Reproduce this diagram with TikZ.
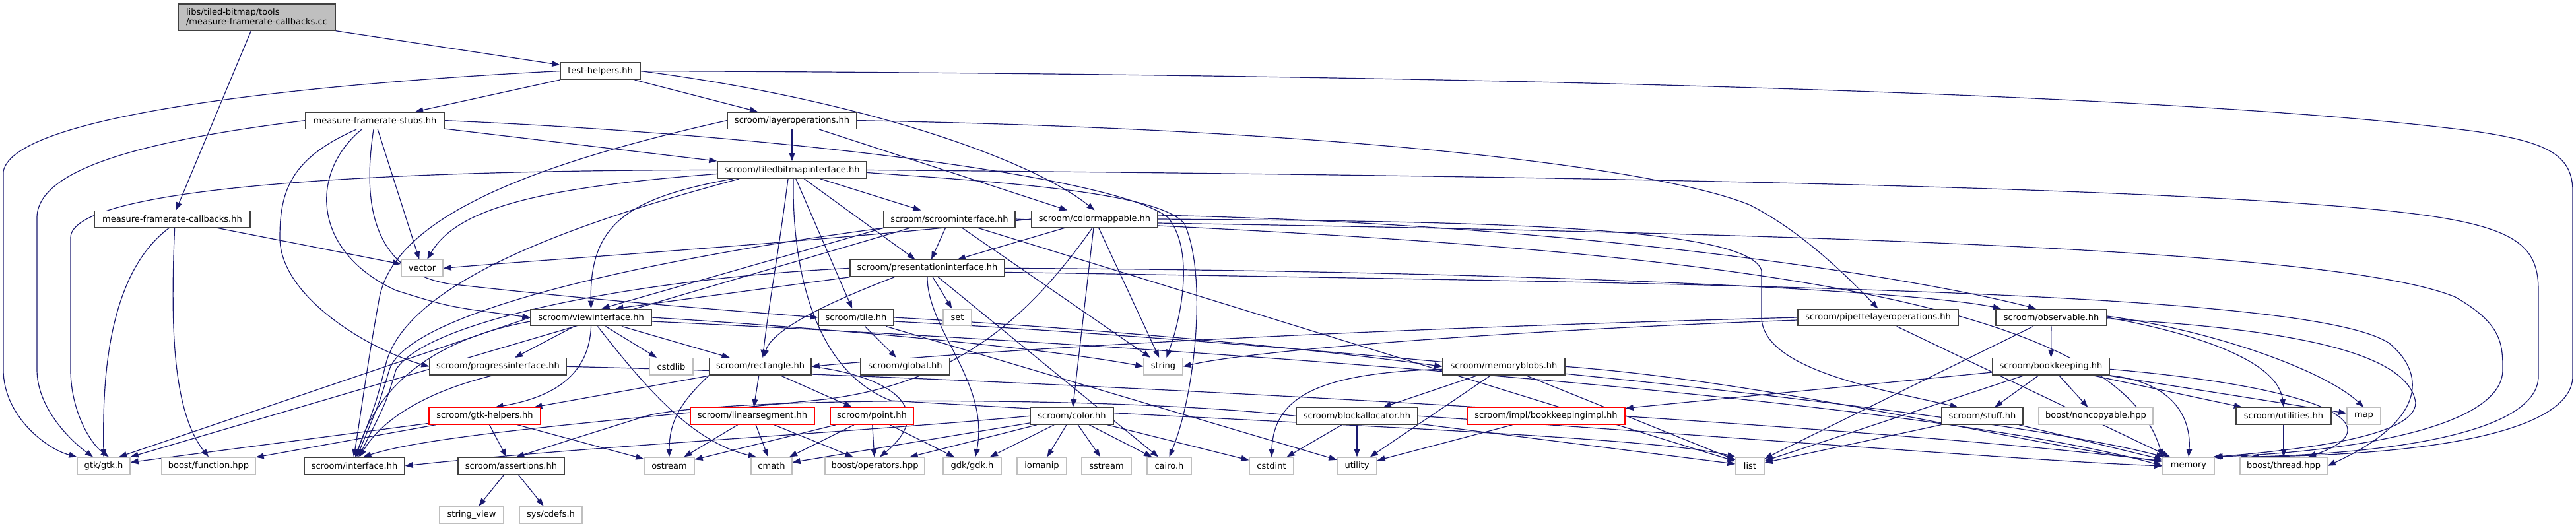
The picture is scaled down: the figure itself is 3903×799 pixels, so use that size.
\documentclass[tikz,border=0pt]{standalone}
\usepackage{fontspec}
\setmainfont{DejaVu Sans}
\usetikzlibrary{arrows.meta}
\definecolor{eb}{HTML}{191970}
\definecolor{nk}{HTML}{404040}
\definecolor{ngc}{HTML}{BFBFBF}
\definecolor{nrc}{HTML}{FF0000}
\pgfdeclarelayer{bg}
\pgfsetlayers{bg,main}
\begin{document}
\begin{tikzpicture}[x=0.5pt,y=-0.5pt,
  e/.style={draw=eb, line width=0.6pt, -{Triangle[length=6pt,width=4.4pt]}},
  nb/.style={draw=nk, fill=white, line width=0.7pt, minimum height=12.75pt, inner sep=0pt, font=\fontsize{6.5}{7.5}\selectfont},
  ng/.style={nb, draw=ngc},
  nr/.style={nb, draw=nrc},
  rootn/.style={nb, fill=ngc, align=left, minimum height=20pt, minimum width=119pt}]
\useasboundingbox (0,0) rectangle (3903,799);
% nodes
\node[rootn] (root) at (389,26) {libs/tiled-bitmap/tools\\/measure-framerate-callbacks.cc};
\node[nb,minimum width=60.5pt] (th) at (909.5,107.6) {test-helpers.hh};
\node[nb,minimum width=105pt] (mfs) at (568,182.6) {measure-framerate-stubs.hh};
\node[nb,minimum width=98pt] (lo) at (1200,182.6) {scroom/layeroperations.hh};
\node[nb,minimum width=113pt] (tbi) at (1200,257.5) {scroom/tiledbitmapinterface.hh};
\node[nb,minimum width=118pt] (mfc) at (261,332) {measure-framerate-callbacks.hh};
\node[nb,minimum width=99.5pt] (si) at (1438.5,332) {scroom/scroominterface.hh};
\node[nb,minimum width=95.5pt] (cm) at (1658.5,332) {scroom/colormappable.hh};
\node[ng,minimum width=31.5pt] (vec) at (639.5,406.4) {vector};
\node[nb,minimum width=117pt] (pi) at (1405,406.4) {scroom/presentationinterface.hh};
\node[nb,minimum width=91.5pt] (vi) at (895.5,481) {scroom/viewinterface.hh};
\node[nb,minimum width=57pt] (tile) at (1297,481) {scroom/tile.hh};
\node[ng,minimum width=21.5pt] (set) at (1450.5,481) {set};
\node[nb,minimum width=121.5pt] (plo) at (2845.5,481) {scroom/pipettelayeroperations.hh};
\node[nb,minimum width=84pt] (obs) at (3108,481) {scroom/observable.hh};
\node[nb,minimum width=103.5pt] (prog) at (754.5,555.3) {scroom/progressinterface.hh};
\node[ng,minimum width=33pt] (cstdlib) at (1017,555.3) {cstdlib};
\node[nb,minimum width=77pt] (rect) at (1152,555.3) {scroom/rectangle.hh};
\node[nb,minimum width=67.5pt] (glob) at (1371.5,555.3) {scroom/global.hh};
\node[ng,minimum width=29.5pt] (string) at (1762.5,555.3) {string};
\node[nb,minimum width=92.5pt] (mb) at (2278.5,555.3) {scroom/memoryblobs.hh};
\node[nb,minimum width=88.5pt] (bk) at (3107.5,555.3) {scroom/bookkeeping.hh};
\node[nr,minimum width=84.5pt] (gh) at (734.5,630.3) {scroom/gtk-helpers.hh};
\node[nr,minimum width=94pt] (ls) at (1140,630.3) {scroom/linearsegment.hh};
\node[nr,minimum width=63pt] (pt) at (1321,630.3) {scroom/point.hh};
\node[nb,minimum width=63pt] (color) at (1624,630.3) {scroom/color.hh};
\node[nb,minimum width=92pt] (ba) at (2056,630.3) {scroom/blockallocator.hh};
\node[nr,minimum width=119.5pt] (bki) at (2342.5,630.3) {scroom/impl/bookkeepingimpl.hh};
\node[nb,minimum width=61.5pt] (stuff) at (3003.5,630.3) {scroom/stuff.hh};
\node[ng,minimum width=86.5pt] (nc) at (3175.5,630.3) {boost/noncopyable.hpp};
\node[nb,minimum width=72pt] (util) at (3460,630.3) {scroom/utilities.hh};
\node[ng,minimum width=25.5pt] (map) at (3581.5,630.3) {map};
\node[ng,minimum width=40pt] (gtk) at (157,705.8) {gtk/gtk.h};
\node[ng,minimum width=71pt] (bf) at (316,705.8) {boost/function.hpp};
\node[nb,minimum width=76pt] (intf) at (537,705.8) {scroom/interface.hh};
\node[nb,minimum width=80.5pt] (assert) at (774.5,705.8) {scroom/assertions.hh};
\node[ng,minimum width=38pt] (ostream) at (1014,705.8) {ostream};
\node[ng,minimum width=31pt] (cmath) at (1169,705.8) {cmath};
\node[ng,minimum width=75.5pt] (bop) at (1325.5,705.8) {boost/operators.hpp};
\node[ng,minimum width=44pt] (gdk) at (1473,705.8) {gdk/gdk.h};
\node[ng,minimum width=37.5pt] (iomanip) at (1578.5,705.8) {iomanip};
\node[ng,minimum width=37.5pt] (sstream) at (1676.5,705.8) {sstream};
\node[ng,minimum width=33.5pt] (cairo) at (1771.5,705.8) {cairo.h};
\node[ng,minimum width=33.5pt] (cstdint) at (1926.5,705.8) {cstdint};
\node[ng,minimum width=30pt] (utility) at (2056,705.8) {utility};
\node[ng,minimum width=21.5pt] (list) at (2651.5,705.8) {list};
\node[ng,minimum width=39pt] (memory) at (3316,705.8) {memory};
\node[ng,minimum width=66pt] (bth) at (3460,705.8) {boost/thread.hpp};
\node[ng,minimum width=48.5pt] (sv) at (714.5,780.2) {string\_view};
\node[ng,minimum width=47.5pt] (cdefs) at (834.5,780.2) {sys/cdefs.h};
\begin{pgfonlayer}{bg}
% root
\draw[e] (root.south east) -- (th);
\draw[e] (root) -- (mfc);
% test-helpers
\draw[e] (th) -- (mfs);
\draw[e] (th) -- (lo);
\draw[e] (th.east) .. controls (1300,150) and (1560,240) .. (cm.north);
\draw[e] (th.west) .. controls (500,125) and (20,170) .. (5,260) -- (5,560) .. controls (5,630) and (70,680) .. (gtk.north west);
\draw[e] (th.east) .. controls (2200,112) and (3300,140) .. (3750,199) .. controls (3860,215) and (3898,235) .. (3898,290) -- (3898,570) .. controls (3898,650) and (3700,690) .. (bth.north west);
% callbacks.hh
\draw[e] (mfc.250) .. controls (156,420) and (156,600) .. (gtk.north);
\draw[e] (mfc.285) .. controls (259,480) and (259,620) .. (bf.north);
\draw[e] (mfc) -- (vec);
% stubs
\draw[e] (mfs.west) .. controls (200,215) and (56,260) .. (56,330) -- (56,560) .. controls (56,620) and (110,670) .. (gtk.140);
\draw[e] (mfs) -- (vec);
\draw[e] (mfs) -- (tbi);
\draw[e] ([xshift=-14pt]mfs.south) .. controls (440,240) and (424,290) .. (424,360) .. controls (424,450) and (560,530) .. (prog.west);
\draw[e] ([xshift=-10pt]mfs.south) .. controls (470,260) and (470,380) .. (600,440) .. controls (680,465) .. (vi.west);
\draw[e] ([xshift=-1pt]mfs.south) .. controls (550,300) and (560,410) .. (680,430) .. controls (900,455) and (1100,470) .. (tile.west);
\draw[e] (mfs.east) .. controls (1200,205) and (1700,270) .. (1770,330) .. controls (1810,380) and (1790,480) .. (string.70);
% layeroperations
\draw[e] (lo) -- (tbi);
\draw[e] (lo) -- (cm);
\draw[e] (lo.west) .. controls (800,250) and (600,330) .. (575,450) .. controls (555,560) and (545,640) .. (intf.95);
\draw[e] (lo.east) .. controls (2000,195) and (2500,250) .. (2650,310) .. controls (2730,350) and (2800,420) .. (plo.north);
% tiledbitmapinterface
\draw[e] (tbi.west) .. controls (500,258) and (107,290) .. (107,360) -- (107,560) .. controls (107,620) and (135,670) .. (gtk.60);
\draw[e] ([yshift=-3pt]tbi.west) .. controls (800,285) and (690,320) .. (vec.60);
\draw[e] ([xshift=-45pt]tbi.south) .. controls (950,300) and (893,340) .. (vi.north);
\draw[e] ([xshift=-40pt]tbi.south) .. controls (900,330) and (620,420) .. (585,550) .. controls (570,610) .. (intf.85);
\draw[e] ([xshift=-3pt]tbi.south) .. controls (1180,380) and (1165,460) .. (rect.75);
\draw[e] (tbi) -- (tile);
\draw[e] (tbi) -- (pi);
\draw[e] (tbi) -- (si);
\draw[e] ([xshift=1pt]tbi.south) .. controls (1200,400) and (1230,560) .. (1350,607) .. controls (1900,640) and (2500,660) .. (list.north west);
\draw[e] (tbi.east) .. controls (2200,265) and (3400,280) .. (3700,330) .. controls (3820,350) and (3846,380) .. (3846,440) -- (3846,570) .. controls (3846,650) and (3650,685) .. (bth.165);
\draw[e] ([yshift=-2pt]tbi.east) .. controls (1500,275) and (1760,290) .. (1795,340) .. controls (1830,420) and (1810,600) .. (cairo.north);
% scroominterface
\draw[e] ([xshift=-30pt]si.south) -- (gtk.north east);
\draw[e] (si.south west) -- (vi.40);
\draw[e] (si.south west) .. controls (1000,390) and (620,470) .. (590,560) .. controls (575,610) .. (intf.75);
\draw[e] (si) -- (pi);
\draw[e] (si) -- (string);
\draw[e] (si.east) .. controls (2400,370) and (3200,420) .. (memory.north west);
\draw[e] (si) -- (list);
% colormappable
\draw[e] (cm.west) .. controls (1200,370) and (800,395) .. (vec.east);
\draw[e] (cm) -- (pi);
\draw[e] (cm.255) .. controls (1560,480) and (1450,580) .. (1250,605) .. controls (900,640) and (650,660) .. (intf.45);
\draw[e] (cm) -- (color);
\draw[e] (cm) -- (string);
\draw[e] (cm.east) .. controls (2200,335) and (2650,340) .. (2669,410) -- (2669,480) .. controls (2669,560) and (2850,590) .. (stuff.160);
\draw[e] ([yshift=-3pt]cm.east) .. controls (2800,355) and (3550,380) .. (3720,450) .. controls (3790,490) and (3792,520) .. (3792,560) .. controls (3792,650) and (3550,685) .. (memory.20);
\draw[e] ([yshift=3pt]cm.east) .. controls (2400,340) and (2900,420) .. (obs.150);
% presentationinterface
\draw[e] (pi.west) .. controls (1000,420) and (650,480) .. (600,560) .. controls (585,610) .. (intf.65);
\draw[e] (pi) -- (set);
\draw[e] (pi.south) .. controls (1405,500) and (1500,580) .. (gdk.70);
\draw[e] (pi) -- (cairo);
\draw[e] (pi.south west) -- (vi.20);
\draw[e] ([xshift=-25pt]pi.south) .. controls (1250,460) and (1170,500) .. (rect.70);
\draw[e] (pi.east) .. controls (2300,410) and (2900,440) .. (obs.170);
\draw[e] ([yshift=-3pt]pi.east) .. controls (2600,430) and (3500,440) .. (3620,520) .. controls (3680,570) and (3670,640) .. (bth.east);
% viewinterface
\draw[e] (vi.west) -- (gtk.30);
\draw[e] ([yshift=-3pt]vi.west) .. controls (650,515) and (570,590) .. (intf.80);
\draw[e] (vi) -- (prog);
\draw[e] (vi) -- (cstdlib);
\draw[e] (vi) -- (rect);
\draw[e] (vi.south) .. controls (893,560) and (850,600) .. (gh.40);
\draw[e] ([xshift=5pt]vi.south) .. controls (980,590) and (1050,670) .. (cmath.150);
\draw[e] (vi.east) .. controls (1300,500) and (1600,530) .. (string.west);
\draw[e] ([yshift=-3pt]vi.east) .. controls (1700,520) and (2900,600) .. (memory.west);
% tile
\draw[e] (tile) -- (glob);
\draw[e] (tile.east) .. controls (1700,500) and (2000,530) .. (mb.west);
\draw[e] (tile) -- (utility);
\draw[e] ([yshift=-3pt]tile.east) .. controls (2000,520) and (3000,620) .. (memory.160);
% progressinterface
\draw[e] (prog.240) .. controls (620,600) and (570,650) .. (intf.60);
\draw[e] (prog.east) .. controls (1500,570) and (2800,640) .. (memory.170);
% rectangle
\draw[e] (rect) -- (gh);
\draw[e] (rect.south west) .. controls (1030,610) and (1014,640) .. (ostream.north);
\draw[e] (rect) -- (ls);
\draw[e] (rect) -- (pt);
\draw[e] (rect.east) .. controls (1350,570) and (1420,620) .. (bop.60);
% pipettelayeroperations
\draw[e] (plo.west) .. controls (2000,500) and (1500,530) .. (rect.east);
\draw[e] ([yshift=-2pt]plo.west) .. controls (2300,500) and (1900,530) .. (string.east);
\draw[e] (plo) -- (memory);
% observable
\draw[e] (obs) -- (bk);
\draw[e] (obs) -- (list);
\draw[e] (obs.east) .. controls (3300,500) and (3450,540) .. (util.north);
\draw[e] ([yshift=1pt]obs.east) .. controls (3350,500) and (3520,560) .. (map.north);
\draw[e] ([yshift=-1pt]obs.east) .. controls (3500,500) and (3650,540) .. (3660,610) .. controls (3660,660) and (3500,680) .. (memory.north east);
% bookkeeping
\draw[e] (bk) -- (bki);
\draw[e] (bk) -- (stuff);
\draw[e] (bk) -- (nc);
\draw[e] (bk) -- (list);
\draw[e] (bk.south east) .. controls (3300,580) and (3320,640) .. (memory.north);
\draw[e] (bk) -- (map);
\draw[e] (bk) -- (util);
\draw[e] ([yshift=-2pt]bk.east) .. controls (3550,590) and (3620,650) .. (bth.20);
% memoryblobs
\draw[e] (mb) -- (ba);
\draw[e] (mb) -- (utility);
\draw[e] ([yshift=-2pt]mb.west) .. controls (2000,565) and (1930,600) .. (cstdint.north);
\draw[e] (mb) -- (list);
\draw[e] (mb.east) .. controls (2700,580) and (3100,680) .. (memory.170);
% blockallocator
\draw[e] (ba) -- (cstdint);
\draw[e] (ba) -- (utility);
\draw[e] (ba) -- (list);
\draw[e] (ba.east) .. controls (2600,660) and (3100,700) .. (memory.west);
\draw[e] (ba.west) .. controls (1700,600) and (1100,600) .. (980,630) .. controls (900,655) .. (assert.60);
% bookkeepingimpl, stuff, utilities
\draw[e] (bki) -- (utility);
\draw[e] (stuff) -- (list);
\draw[e] (stuff) -- (memory);
\draw[e] (util) -- (bth);
% color
\draw[e] (color.west) .. controls (1300,655) and (900,675) .. (intf.east);
\draw[e] (color) -- (cmath);
\draw[e] (color) -- (bop);
\draw[e] (color) -- (gdk);
\draw[e] (color) -- (iomanip);
\draw[e] (color) -- (sstream);
\draw[e] (color) -- (cairo);
\draw[e] (color) -- (cstdint);
% point, linearsegment
\draw[e] (pt) -- (ostream);
\draw[e] (pt) -- (cmath);
\draw[e] (pt) -- (bop);
\draw[e] (pt) -- (gdk);
\draw[e] (ls) -- (ostream);
\draw[e] (ls) -- (cmath);
\draw[e] (ls) -- (bop);
% gtk-helpers
\draw[e] (gh) -- (gtk);
\draw[e] (gh) -- (bf);
\draw[e] (gh) -- (assert);
\draw[e] (gh) -- (ostream);
% assertions
\draw[e] (assert) -- (sv);
\draw[e] (assert) -- (cdefs);
\end{pgfonlayer}
\end{tikzpicture}
\end{document}
